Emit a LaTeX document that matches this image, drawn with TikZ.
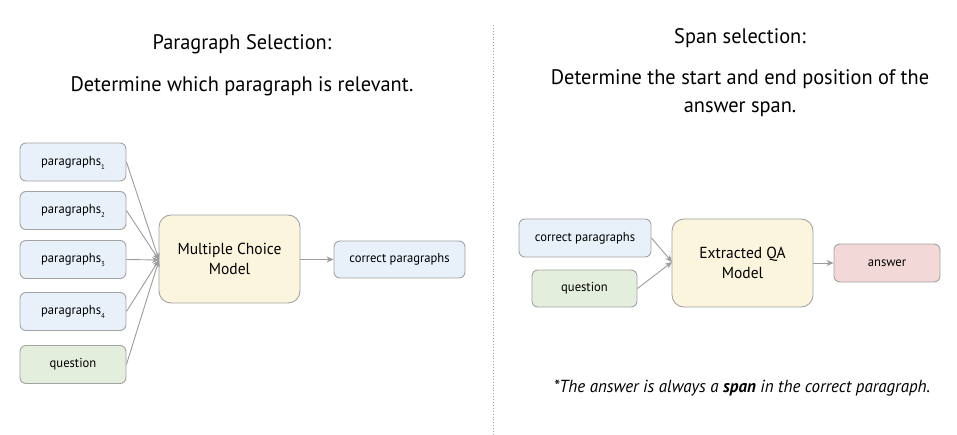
\documentclass[tikz,border=0pt]{standalone}
\usepackage{fontspec}
\setmainfont{PT Sans}[FakeStretch=0.97]
\usetikzlibrary{arrows.meta}
\definecolor{bluef}{HTML}{E8F0FA}
\definecolor{yelf}{HTML}{FCF5DE}
\definecolor{greenf}{HTML}{E4EEDC}
\definecolor{redf}{HTML}{F3D8D8}
\definecolor{edgec}{HTML}{A3A3A3}
\definecolor{arrc}{HTML}{9C9C9C}
\tikzset{
  box/.style={draw=edgec, line width=0.9pt, rounded corners=6pt, inner sep=0pt, font=\fontsize{13}{15}\selectfont},
  bigbox/.style={draw=edgec, line width=0.9pt, rounded corners=12pt, fill=yelf, inner sep=0pt, align=center, font=\fontsize{16}{20}\selectfont},
  conn/.style={draw=arrc, line width=0.9pt, -{Stealth[length=7pt,width=6pt]}},
  title/.style={font=\fontsize{21}{28}\selectfont, align=center}
}
\newcommand{\sbx}[1]{\raisebox{-4pt}[0pt][0pt]{\fontsize{7}{8}\selectfont #1}}
\begin{document}
\begin{tikzpicture}[x=1pt,y=-1pt]
\useasboundingbox[fill=white] (0,0) rectangle (957,435);
% titles
\node[title] (t1) at (242,44) {Paragraph Selection:};
\node[title] (t2) at (242,86) {Determine which paragraph is relevant.};
\node[title] (t3) at (740,38) {Span selection:};
\node[title] (t4) at (740,93) {Determine the start and end position of the\\answer span.};
% divider
\draw[edgec, line width=0.9pt, dotted] (493,25) -- (493,435);
% left
\node[box, fill=bluef, minimum width=106pt, minimum height=38pt] (p1) at (73,162) {paragraphs\sbx{1}};
\node[box, fill=bluef, minimum width=106pt, minimum height=38pt] (p2) at (73,210.5) {paragraphs\sbx{2}};
\node[box, fill=bluef, minimum width=106pt, minimum height=38pt] (p3) at (73,259.5) {paragraphs\sbx{3}};
\node[box, fill=bluef, minimum width=106pt, minimum height=38pt] (p4) at (73,311.5) {paragraphs\sbx{4}};
\node[box, fill=greenf, minimum width=106pt, minimum height=38pt] (q1) at (73,364.5) {question};
\node[bigbox, minimum width=141pt, minimum height=88pt] (mc) at (229.5,259) {Multiple Choice\\Model};
\node[box, fill=bluef, minimum width=131pt, minimum height=37pt] (cp1) at (399.5,259.5) {correct paragraphs};
\coordinate (mcin) at (159,260);
\draw[conn] (p1.east) -- (mcin);
\draw[conn] (p2.east) -- (mcin);
\draw[conn] (p3.east) -- (mcin);
\draw[conn] (p4.east) -- (mcin);
\draw[conn] (q1.east) -- (mcin);
\draw[conn] (mc.east |- cp1.west) -- (cp1.west);
% right
\node[box, fill=bluef, minimum width=132pt, minimum height=38pt] (cp2) at (585,238) {correct paragraphs};
\node[box, fill=greenf, minimum width=105pt, minimum height=37pt] (q2) at (584.5,288.5) {question};
\node[bigbox, minimum width=141pt, minimum height=88pt] (qa) at (742.5,263) {Extracted QA\\Model};
\node[box, fill=redf, minimum width=106pt, minimum height=38pt] (ans) at (887,263) {answer};
\coordinate (qain) at (672,262);
\draw[conn] (cp2.east) -- (qain);
\draw[conn] (q2.east) -- (qain);
\draw[conn] (qa.east) -- (ans.west);
\node[font=\fontsize{17.5}{20}\selectfont\itshape] (fn) at (742,388) {*The answer is always a \textbf{span} in the correct paragraph.};
\end{tikzpicture}
\end{document}
